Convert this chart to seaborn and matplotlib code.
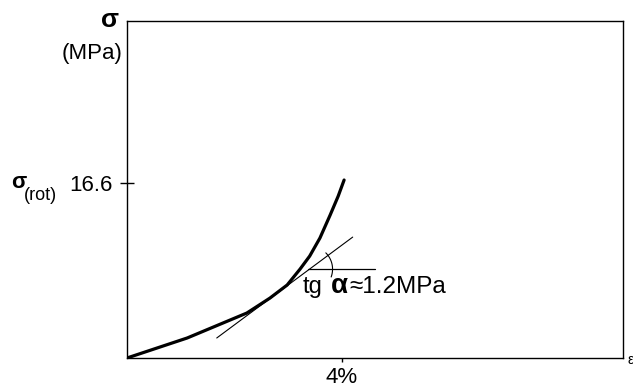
import numpy as np
import matplotlib
matplotlib.use("Agg")
import matplotlib.pyplot as plt
import seaborn as sns

# Stress-strain curve (strain in %, stress in MPa)
strain = [0.0, 1.12, 2.23, 2.66, 2.98, 3.22, 3.40, 3.59, 3.78, 3.93, 4.04]
stress = [0.0, 1.90, 4.27, 5.69, 6.93, 8.44, 9.68, 11.39, 13.57, 15.37, 16.9]

# Tangent line and horizontal reference line
tangent_x = [1.67, 4.20]
tangent_y = [1.90, 11.48]
horiz_x = [3.37, 4.61]
horiz_y = [8.44, 8.44]

# Ticks
x_ticks = [4]
x_labels = ["4%"]
y_ticks = [16.6]
y_labels = ["16.6"]

sns.set_style("white")
plt.rcParams["font.family"] = ["Liberation Sans", "DejaVu Sans"]
plt.rcParams["text.color"] = "black"
plt.rcParams["xtick.color"] = "black"
plt.rcParams["ytick.color"] = "black"

fig = plt.figure(figsize=(6.33, 3.89), dpi=100)
ax = fig.add_axes([127 / 633, 31 / 389, 496 / 633, 337 / 389])

sns.lineplot(x=strain, y=stress, color="black", lw=2.3, sort=False, ax=ax,
             solid_joinstyle="round", solid_capstyle="round")
sns.lineplot(x=tangent_x, y=tangent_y, color="black", lw=0.8, ax=ax)
sns.lineplot(x=horiz_x, y=horiz_y, color="black", lw=0.9, ax=ax)

# angle arc (drawn in pixel-like proportions)
px_x, px_y = 53.75, 10.54
cx = tangent_x[0] + (horiz_y[0] - tangent_y[0]) / ((tangent_y[1] - tangent_y[0]) / (tangent_x[1] - tangent_x[0]))
t = np.radians(np.linspace(-20, 45, 40))
ax.plot(cx + 23 * np.cos(t) / px_x, horiz_y[0] + 23 * np.sin(t) / px_y, color="black", lw=0.8)

ax.set_xlim(0, 9.23)
ax.set_ylim(0, 32)
ax.set_xticks(x_ticks, x_labels, fontsize=16)
ax.set_yticks(y_ticks, y_labels, fontsize=16)
ax.tick_params(axis="y", left=True, direction="inout", length=10, width=1, pad=5.5, color="black", labelcolor="black")
ax.tick_params(axis="x", bottom=True, direction="out", length=3, width=1, pad=3.5, color="black", labelcolor="black")
for s in ax.spines.values():
    s.set_visible(True)
    s.set_color("black")
    s.set_linewidth(1.0)

# labels
fig.text(110 / 633, 1 - 20 / 389, "σ", fontsize=19, fontweight="bold", ha="center", va="center")
fig.text(92 / 633, 1 - 54 / 389, "(MPa)", fontsize=16, ha="center", va="center")
fig.text(11 / 633, 1 - 183 / 389, "σ", fontsize=16, fontweight="bold", ha="left", va="center")
fig.text(24 / 633, 1 - 196 / 389, "(rot)", fontsize=13, ha="left", va="center")

ax.text(3.26, 6.17, "tg", fontsize=17, ha="left", va="baseline")
ax.text(3.80, 6.17, "α", fontsize=20, fontweight="bold", ha="left", va="baseline")
ax.text(4.13, 6.17, "≈1.2MPa", fontsize=17.5, ha="left", va="baseline")
fig.text(628 / 633, 1 - 360 / 389, "ε", fontsize=10, ha="left", va="center")

fig.savefig("out.png", dpi=100)
